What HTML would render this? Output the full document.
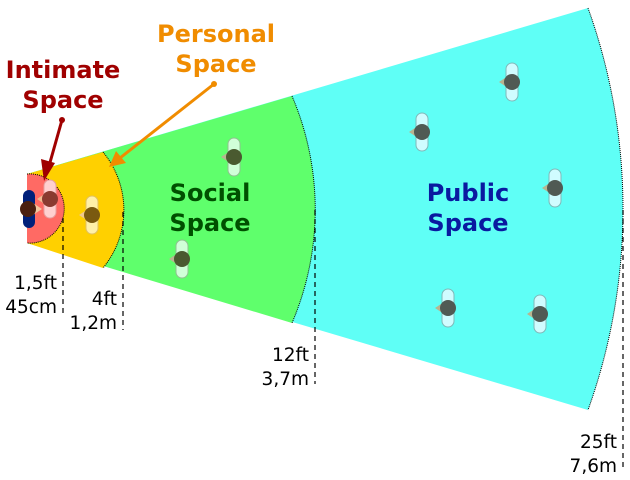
<!DOCTYPE html>
<html><head><meta charset="utf-8"><style>
html,body{margin:0;padding:0;background:#fff;width:630px;height:480px;overflow:hidden}
svg{display:block}
text{font-family:"DejaVu Sans","Liberation Sans",sans-serif}
.t{font-weight:bold;font-size:24px;text-anchor:middle}
.m{font-size:18.5px;text-anchor:end;fill:#000}
</style></head><body>
<svg width="630" height="480" viewBox="0 0 630 480" xmlns="http://www.w3.org/2000/svg">
<defs>
<g id="p"><rect x="-6" y="-19" width="12" height="38" rx="6" stroke-width="1"/></g>
<path id="n" d="M-4,-6 L-13,0 L-4,6 Z" fill="#b8b490"/>
</defs>
<!-- zones -->
<path d="M27 174 L588 8 A595 595 0 0 1 588 410 L27 243 Z" fill="#5ffff6"/>
<path d="M588 8 A595 595 0 0 1 588 410" fill="none" stroke="#000" stroke-width="1" stroke-dasharray="1,1"/>
<path d="M27 174 L292 96 A289 289 0 0 1 292 323 L27 243 Z" fill="#5fff6c"/>
<path d="M292 96 A289 289 0 0 1 292 323" fill="none" stroke="#000" stroke-width="1" stroke-dasharray="1,1"/>
<path d="M27 174 L103 152 A91 91 0 0 1 103 268 L27 243 Z" fill="#ffd000"/>
<path d="M103 152 A91 91 0 0 1 103 268" fill="none" stroke="#000" stroke-width="1" stroke-dasharray="1,1"/>
<path d="M27 174 A34.6 34.6 0 1 1 27 243 Z" fill="#ff6a64"/>
<path d="M27 174 A34.6 34.6 0 1 1 27 243" fill="none" stroke="#000" stroke-width="1" stroke-dasharray="1,1"/>
<!-- dashed measure lines -->
<g stroke="#000" stroke-width="1.2" stroke-dasharray="5,4">
<line x1="63" y1="218" x2="63" y2="314"/>
<line x1="123" y1="212" x2="123" y2="330"/>
<line x1="315" y1="210" x2="315" y2="384"/>
<line x1="623" y1="210" x2="623" y2="470"/>
</g>
<text class="m" x="57" y="289">1,5ft</text>
<text class="m" x="57" y="313">45cm</text>
<text class="m" x="117" y="305">4ft</text>
<text class="m" x="117" y="329">1,2m</text>
<text class="m" x="309" y="361">12ft</text>
<text class="m" x="309" y="385">3,7m</text>
<text class="m" x="617" y="448">25ft</text>
<text class="m" x="617" y="472">7,6m</text>
<!-- people -->
<g transform="translate(29,209)"><rect x="-6" y="-19" width="12" height="38" rx="6" fill="#00207a"/><path d="M4,-6 L13,0 L4,6 Z" fill="#f0c8a0"/><circle cx="-1" r="8" fill="#4a1f10"/></g>
<g transform="translate(50,199)"><rect x="-6" y="-19" width="12" height="38" rx="6" fill="#ffd0d0" stroke="#e8a0a0"/><path d="M-4,-6 L-13,0 L-4,6 Z" fill="#f0b890"/><circle r="8" fill="#8a3a30"/></g>
<g transform="translate(92,215)"><rect x="-6" y="-19" width="12" height="38" rx="6" fill="#fff0a8" stroke="#e0c060"/><path d="M-4,-6 L-13,0 L-4,6 Z" fill="#f0c890"/><circle r="8" fill="#7a5a10"/></g>
<g fill="#d0ffd8" stroke="#90c090">
<g transform="translate(234,157)"><use href="#p"/><use href="#n" stroke="none"/><circle r="8" fill="#4a5a30" stroke="none"/></g>
<g transform="translate(182,259)"><use href="#p"/><use href="#n" stroke="none"/><circle r="8" fill="#4a5a30" stroke="none"/></g>
</g>
<g fill="#d0fcff" stroke="#80b8b8">
<g transform="translate(512,82)"><use href="#p"/><use href="#n" stroke="none"/><circle r="8" fill="#505a54" stroke="none"/></g>
<g transform="translate(422,132)"><use href="#p"/><use href="#n" stroke="none"/><circle r="8" fill="#505a54" stroke="none"/></g>
<g transform="translate(555,188)"><use href="#p"/><use href="#n" stroke="none"/><circle r="8" fill="#505a54" stroke="none"/></g>
<g transform="translate(448,308)"><use href="#p"/><use href="#n" stroke="none"/><circle r="8" fill="#505a54" stroke="none"/></g>
<g transform="translate(540,314)"><use href="#p"/><use href="#n" stroke="none"/><circle r="8" fill="#505a54" stroke="none"/></g>
</g>
<!-- arrows -->
<circle cx="62" cy="120" r="3" fill="#a00000"/>
<line x1="62" y1="120" x2="49" y2="166" stroke="#a00000" stroke-width="3"/>
<path d="M44 181 L41 159 L55 163 Z" fill="#a00000"/>
<circle cx="214" cy="84" r="3" fill="#f08c00"/>
<line x1="214" y1="84" x2="120" y2="158" stroke="#f08c00" stroke-width="3"/>
<path d="M109 167 L116 151 L126 163 Z" fill="#f08c00"/>
<!-- titles -->
<text class="t" x="63" y="78" fill="#a00000">Intimate</text>
<text class="t" x="63" y="108" fill="#a00000">Space</text>
<text class="t" x="216" y="42" fill="#f08c00">Personal</text>
<text class="t" x="216" y="72" fill="#f08c00">Space</text>
<text class="t" x="210" y="201" fill="#005000">Social</text>
<text class="t" x="210" y="231" fill="#005000">Space</text>
<text class="t" x="468" y="201" fill="#0a1aa0">Public</text>
<text class="t" x="468" y="231" fill="#0a1aa0">Space</text>
</svg>
</body></html>
